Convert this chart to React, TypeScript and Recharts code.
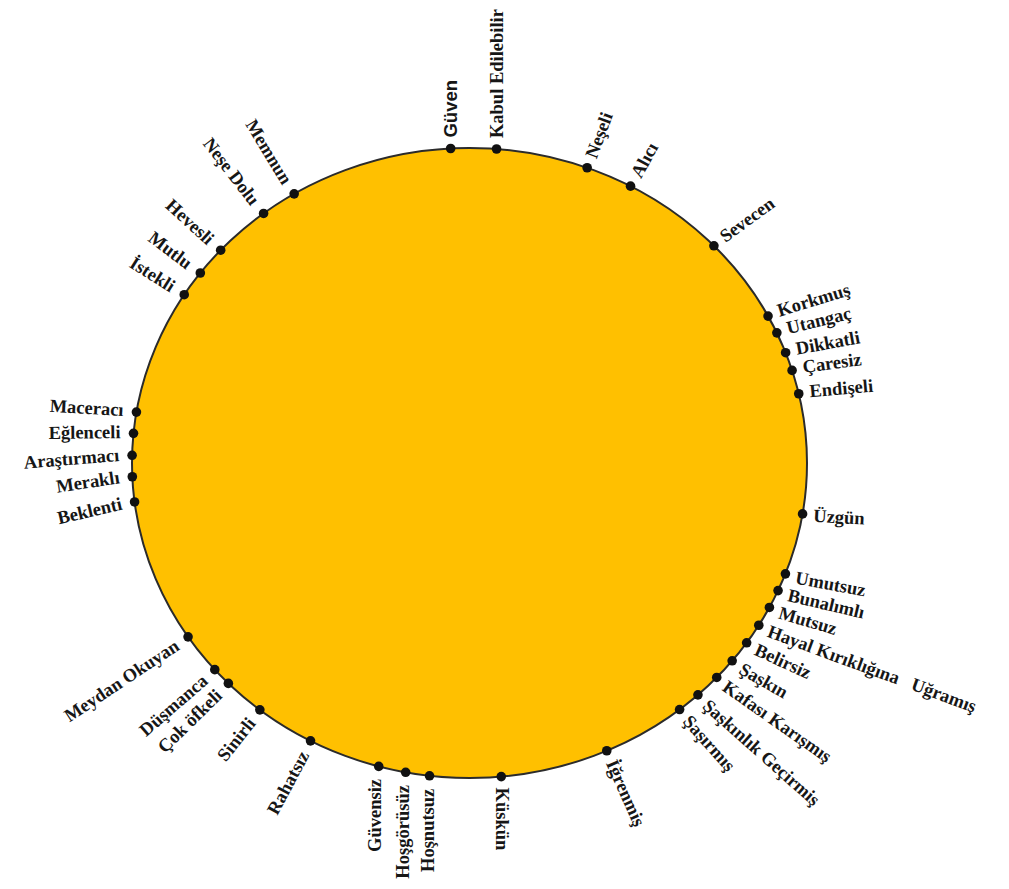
import { ScatterChart, Scatter, XAxis, YAxis, ReferenceArea } from 'recharts';

// emotion labels, clockwise from the top
const emotions = [
  'Güven', 'Kabul Edilebilir', 'Neşeli', 'Alıcı', 'Sevecen',
  'Korkmuş', 'Utangaç', 'Dikkatli', 'Çaresiz', 'Endişeli',
  'Üzgün', 'Umutsuz', 'Bunalımlı', 'Mutsuz', 'Hayal Kırıklığına   Uğramış',
  'Belirsiz', 'Şaşkın', 'Kafası Karışmış', 'Şaşkınlık Geçirmiş', 'Şaşırmış',
  'İğrenmiş', 'Küskün', 'Hoşnutsuz', 'Hoşgörüsüz', 'Güvensiz',
  'Rahatsız', 'Sinirli', 'Çok öfkeli', 'Düşmanca', 'Meydan Okuyan',
  'Beklenti', 'Meraklı', 'Araştırmacı', 'Eğlenceli', 'Maceracı',
  'İstekli', 'Mutlu', 'Hevesli', 'Neşe Dolu', 'Memnun',
];

// position on the wheel, degrees counter-clockwise from 3 o'clock
const angles = [
  93.2, 85.4, 69.6, 61.5, 43.6,
  27.8, 24.4, 20.5, 17.1, 12.7,
  -9.3, -20.6, -23.9, -27.3, -31.0,
  -34.8, -38.9, -42.9, -47.4, -51.5,
  -66.0, -84.6, -96.8, -100.9, -105.6,
  -118.1, -128.4, -135.6, -139.0, -146.5,
  187.1, 182.5, 178.6, 174.6, 170.7,
  147.7, 142.9, 137.5, 127.6, 121.3,
];

const rad = (d: number) => (d * Math.PI) / 180;

const data = emotions.map((name, i) => ({
  name,
  angle: angles[i],
  x: Math.cos(rad(angles[i])),
  y: Math.sin(rad(angles[i])),
}));

const norm = (d: number) => ((((d + 180) % 360) + 360) % 360) - 180;

function EmotionDot(props: any) {
  const { cx, cy, payload } = props;
  if (cx == null || cy == null) return null;
  const a = norm(payload.angle);
  const right = a >= -90 && a <= 95;
  const gap = right ? 11 : 13;
  const px = cx + Math.cos(rad(a)) * gap;
  const py = cy - Math.sin(rad(a)) * gap;

  let rot: number;
  if (right) {
    const phi = Math.max(-90, Math.min(90, -a));
    const k = Math.min(1, 0.22 + Math.abs(phi) / 72);
    rot = Math.abs(phi) > 80 ? Math.sign(phi) * 90 : phi * k;
  } else {
    const phi = norm(-a - 180);
    // labels around 9 o'clock lean a little more than the radius
    const lean = Math.abs(phi) < 20 ? phi - 6 : phi;
    rot = Math.abs(phi) > 68 ? Math.sign(phi) * 90 : lean;
  }

  const sans = payload.name === 'Güven';
  return (
    <g>
      <circle cx={cx} cy={cy} r={4.8} fill="#111" />
      <text
        x={px}
        y={py}
        transform={`rotate(${rot} ${px} ${py})`}
        textAnchor={right ? 'start' : 'end'}
        dominantBaseline="central"
        fontFamily={sans ? '"Liberation Sans", Arial, sans-serif' : '"Liberation Serif", "Times New Roman", serif'}
        fontWeight="bold"
        fontSize={18.5}
        fill="#161616"
        style={{ whiteSpace: 'pre' }}
      >
        {payload.name}
      </text>
    </g>
  );
}

function Wheel(props: any) {
  const { x, y, width, height } = props;
  return (
    <ellipse
      cx={x + width / 2}
      cy={y + height / 2}
      rx={width / 2}
      ry={height / 2}
      fill="#FFC000"
      stroke="#2b2b2b"
      strokeWidth={2}
    />
  );
}

export default function App() {
  return (
    <div style={{ width: 1009, height: 889, margin: -8, background: '#fff' }}>
      <ScatterChart
        width={1009}
        height={889}
        margin={{ top: 148, right: 202, bottom: 111, left: 132 }}
      >
        <XAxis type="number" dataKey="x" domain={[-1, 1]} hide />
        <YAxis type="number" dataKey="y" domain={[-1, 1]} hide />
        <ReferenceArea x1={-1} x2={1} y1={-1} y2={1} shape={<Wheel />} />
        <Scatter data={data} shape={<EmotionDot />} isAnimationActive={false} />
      </ScatterChart>
    </div>
  );
}
